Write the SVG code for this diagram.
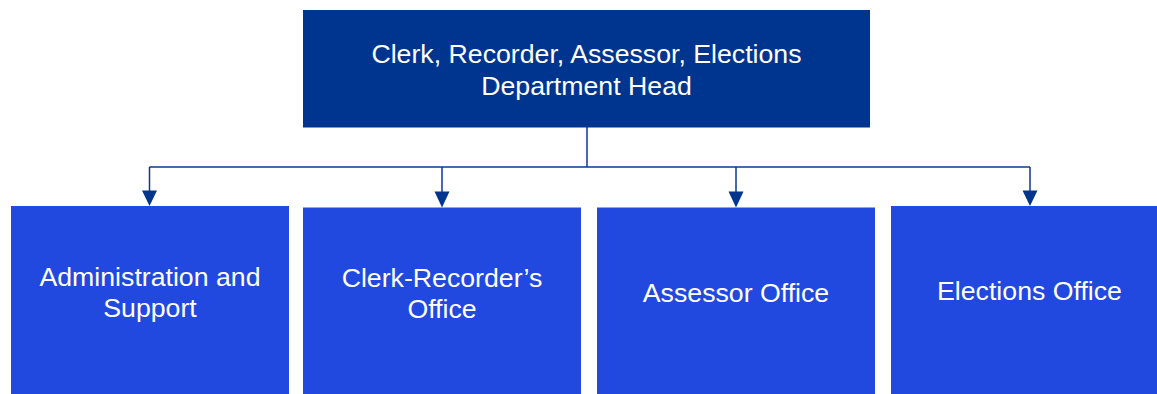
<svg xmlns="http://www.w3.org/2000/svg" width="1157" height="394" viewBox="0 0 1157 394">
  <style>
    .head { fill: #00358F; }
    .unit { fill: #2149E0; }
    .label { font-family: "Liberation Sans", Arial, sans-serif; font-size: 26.7px; fill: #FFFFFF; text-anchor: middle; }
    .link { fill: none; stroke: #0A3A8E; stroke-width: 1.5; }
    .tip { fill: #00358F; }
  </style>
  <rect width="1157" height="394" fill="#FFFFFF"/>

  <!-- connectors: trunk, bus line, drops and arrowheads -->
  <g id="connectors">
    <path class="link" d="M587,127 V167"/>
    <path class="link" d="M149.5,167 H1030"/>
    <path class="link" d="M149.5,167 V192"/>
    <path class="link" d="M442,167 V192"/>
    <path class="link" d="M736,167 V192"/>
    <path class="link" d="M1030,167 V192"/>
    <path class="tip" d="M142,190.5 L157,190.5 L149.5,206 Z"/>
    <path class="tip" d="M434.5,191.5 L449.5,191.5 L442,207.5 Z"/>
    <path class="tip" d="M728.5,191.5 L743.5,191.5 L736,207.5 Z"/>
    <path class="tip" d="M1022.5,190.5 L1037.5,190.5 L1030,206 Z"/>
  </g>

  <g id="department-head">
    <rect class="head" x="303" y="10" width="567" height="117.5"/>
    <text class="label" x="586.5" y="63">Clerk, Recorder, Assessor, Elections</text>
    <text class="label" x="586.5" y="95">Department Head</text>
  </g>

  <g id="administration-support">
    <rect class="unit" x="11" y="206" width="278" height="188"/>
    <text class="label" x="150" y="285.5">Administration and</text>
    <text class="label" x="150" y="317">Support</text>
  </g>

  <g id="clerk-recorder-office">
    <rect class="unit" x="303" y="207.5" width="278" height="186.5"/>
    <text class="label" x="442" y="286.5">Clerk-Recorder’s</text>
    <text class="label" x="442" y="318">Office</text>
  </g>

  <g id="assessor-office">
    <rect class="unit" x="597" y="207.5" width="278" height="186.5"/>
    <text class="label" x="736" y="301.5">Assessor Office</text>
  </g>

  <g id="elections-office">
    <rect class="unit" x="891" y="206" width="278" height="188"/>
    <text class="label" x="1029.5" y="300">Elections Office</text>
  </g>
</svg>
